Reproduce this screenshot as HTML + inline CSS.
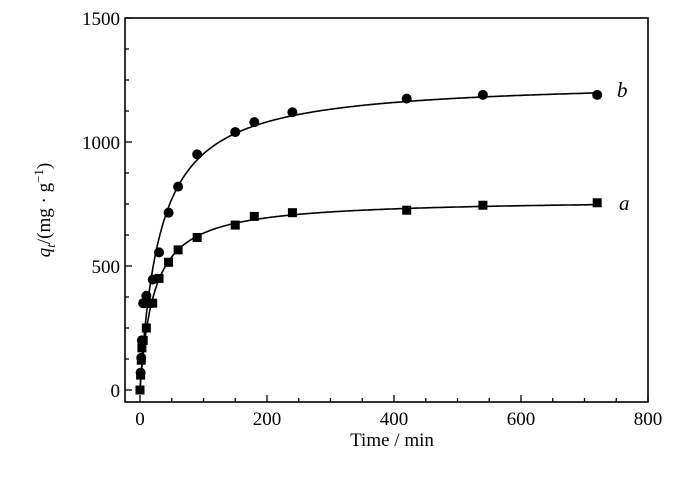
<!DOCTYPE html>
<html><head><meta charset="utf-8"><style>
body{margin:0;background:#fff}
svg{display:block;font-family:"Liberation Serif",serif}
</style></head><body>
<svg id="chart" width="700" height="481" viewBox="0 0 700 481"></svg>
<script>
const seriesBTime=[1,2,3,5,10,15,20,30,45,60,90,150,180,240,420,540,720];
const seriesBValues=[70,130,200,350,380,350,445,555,715,820,950,1040,1080,1120,1175,1190,1190];
const seriesATime=[0,1,2,3,5,10,15,20,30,45,60,90,150,180,240,420,540,720];
const seriesAValues=[0,60,120,170,200,250,350,350,450,515,565,615,665,700,715,725,745,755];
const xTicks=[0,200,400,600,800];
const yTicks=[0,500,1000,1500];
const fitB={qe:1250,kq:0.032};
const fitA={qe:770,kq:0.046};
const NS="http://www.w3.org/2000/svg";
const svg=document.getElementById('chart');
const X0=140,X1=648,Y0=390,Y1=18,BOT=402,LEFT=125;
const xs=v=>X0+(X1-X0)*v/800;
const ys=v=>Y0+(Y1-Y0)*v/1500;
function mk(t,a,p){const e=document.createElementNS(NS,t);for(const k in a)e.setAttribute(k,a[k]);(p||svg).appendChild(e);return e;}
const frame=mk('rect',{x:LEFT,y:Y1,width:X1-LEFT,height:BOT-Y1,fill:'none',stroke:'#000','stroke-width':1.6});


for(let v=0;v<=800;v+=50){const x=xs(v);const l=v%200===0?7:4;
const t=mk('line',{x1:x,x2:x,y1:BOT,y2:BOT-l,stroke:'#000','stroke-width':1.3});

}
xTicks.forEach(v=>{const t=mk('text',{x:xs(v),y:425,'text-anchor':'middle','font-size':19});t.textContent=v;

});
for(let v=0;v<=1500;v+=125){const y=ys(v);const l=v%500===0?7:4;
const t=mk('line',{x1:LEFT,x2:LEFT+l,y1:y,y2:y,stroke:'#000','stroke-width':1.3});

}
yTicks.forEach(v=>{const t=mk('text',{x:120,y:ys(v)+7,'text-anchor':'end','font-size':19});t.textContent=v;

});
const xl=mk('text',{x:392,y:446,'text-anchor':'middle','font-size':19});xl.textContent='Time / min';


const yl=mk('text',{transform:'translate(50,210) rotate(-90)','text-anchor':'middle','font-size':19});
yl.innerHTML='<tspan font-style="italic">q</tspan><tspan font-style="italic" font-size="13" dy="5">t</tspan><tspan dy="-5">/(mg · g</tspan><tspan font-size="13" dy="-7">−1</tspan><tspan dy="7">)</tspan>';


function fit(f,name){let d='';for(let t=0;t<=720;t+=1){const q=f.qe*f.kq*t/(1+f.kq*t);d+=(t?'L':'M')+xs(t).toFixed(1)+','+ys(q).toFixed(1);}
const p=mk('path',{d,fill:'none',stroke:'#000','stroke-width':1.6});

}
fit(fitA,'fit-curve-a');fit(fitB,'fit-curve-b');
seriesBTime.forEach((t,i)=>{const c=mk('circle',{cx:xs(t),cy:ys(seriesBValues[i]),r:5,fill:'#000'});

});
seriesATime.forEach((t,i)=>{const r=mk('rect',{x:xs(t)-4.5,y:ys(seriesAValues[i])-4.5,width:9,height:9,fill:'#000'});

});
const lb=mk('text',{x:617,y:97,'font-size':21,'font-style':'italic'});lb.textContent='b';


const la=mk('text',{x:619,y:210,'font-size':21,'font-style':'italic'});la.textContent='a';


</script>
</body></html>
